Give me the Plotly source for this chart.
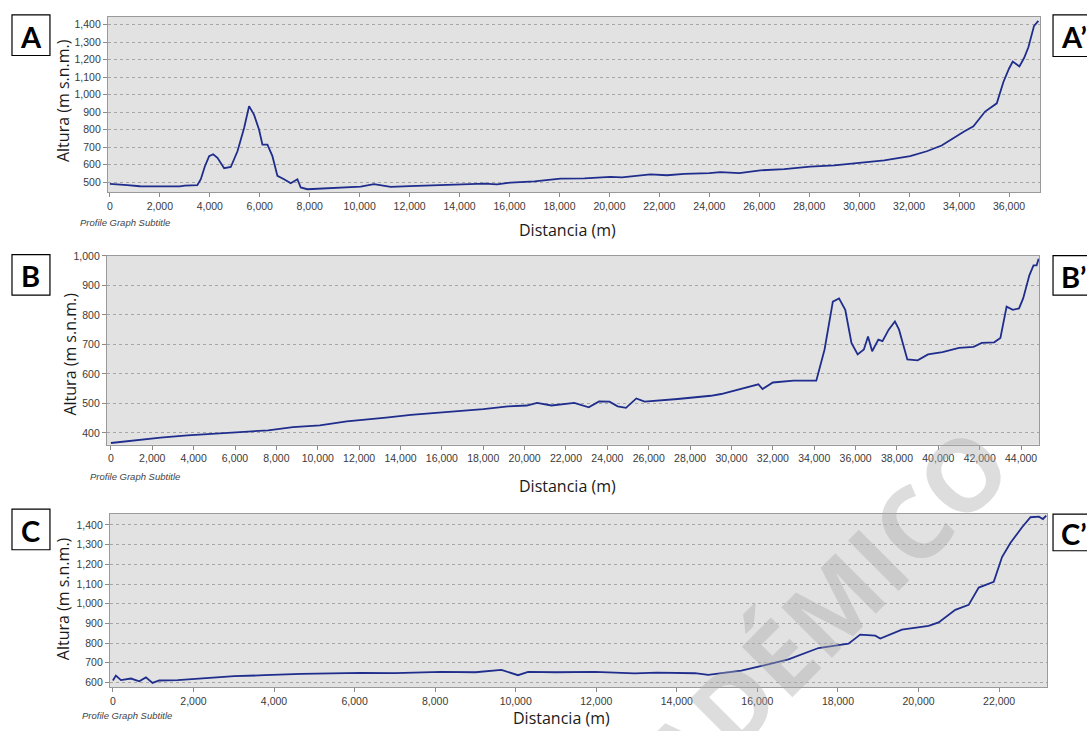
import plotly.graph_objects as go

# Perfil A - A'
dist_a = [0, 300, 700, 1200, 2000, 2800, 3000, 3500, 3640, 3800, 3973, 4133, 4307, 4573, 4840,
          5107, 5373, 5573, 5773, 5973, 6107, 6307, 6507, 6707, 6973, 7240, 7507, 7640, 7907,
          8707, 9500, 10040, 10573, 11000, 11240, 12000, 13000, 14040, 15000, 15500, 16040,
          17000, 18040, 19000, 20040, 20500, 21000, 21640, 22307, 23000, 24000, 24440, 25200,
          26040, 27000, 28040, 29000, 30040, 31000, 32040, 32707, 33300, 33773, 34200, 34573,
          34800, 35040, 35507, 35773, 36000, 36147, 36413, 36600, 36773, 37000, 37173]
alt_a = [490, 488, 483, 477, 475, 476, 480, 483, 517, 590, 649, 660, 640, 580, 587,
         677, 810, 935, 885, 800, 715, 715, 649, 536, 517, 494, 517, 470, 460,
         465, 468, 475, 489, 478, 473, 478, 482, 489, 492, 488, 498,
         505, 521, 522, 530, 528, 535, 545, 540, 548, 552, 558, 552,
         568, 575, 589, 596, 611, 625, 649, 677, 710, 753, 790, 819,
         860, 904, 951, 1073, 1150, 1190, 1162, 1210, 1271, 1394, 1422]

# Perfil B - B'
dist_b = [0, 1100, 2400, 3700, 5000, 6300, 7600, 8800, 10100, 11400, 12100, 13300, 14500, 16100,
          18000, 19200, 20100, 20600, 21300, 22400, 23100, 23600, 24100, 24500, 24900, 25400,
          25800, 27400, 29000, 29500, 30500, 31300, 31500, 32000, 33000, 34100, 34500, 34900,
          35200, 35500, 35800, 36100, 36400, 36600, 36800, 37100, 37300, 37600, 37900, 38100,
          38500, 39000, 39500, 40200, 41000, 41700, 42100, 42700, 43000, 43300, 43600, 43900,
          44100, 44400, 44600, 44750, 44850]
alt_b = [366, 375, 384, 392, 398, 403, 409, 420, 426, 439, 443, 452, 461, 470,
         481, 490, 493, 502, 493, 502, 487, 507, 506, 490, 485, 517,
         506, 515, 526, 532, 549, 565, 549, 571, 577, 577, 683, 845,
         856, 817, 705, 666, 683, 727, 677, 716, 711, 750, 778, 750,
         649, 646, 666, 674, 688, 692, 705, 707, 722, 828, 817, 822,
         856, 934, 968, 968, 990]

# Perfil C - C'
dist_c = [0, 75, 200, 450, 655, 820, 985, 1150, 1608, 2187, 3016, 3762, 4673, 6165, 7000, 8153,
          9000, 9645, 10058, 10307, 11000, 11964, 12958, 13500, 14450, 14780, 15113, 15600,
          16107, 16770, 17516, 18000, 18262, 18552, 18925, 19050, 19587, 20250, 20499, 20913,
          21245, 21494, 21867, 22073, 22280, 22570, 22780, 22988, 23088, 23170]
alt_c = [610, 635, 612, 620, 606, 626, 598, 610, 612, 619, 632, 637, 644, 649, 648, 654,
         652, 664, 637, 654, 652, 654, 646, 650, 647, 639, 647, 660,
         684, 717, 775, 790, 797, 843, 838, 823, 868, 888, 905, 969,
         994, 1082, 1111, 1237, 1308, 1388, 1439, 1442, 1430, 1447]

W, H = 1087, 731
LINE = "#1f2d8c"
PLOT_BG = "#e2e2e2"


def px(x):
    return x / W


def py(y):
    return 1 - y / H


panels = [
    # (x, y, x domain px, y domain px, x range, y range, y ticks)
    (dist_a, alt_a, (107, 1040), (11, 188), (-80, 37240), (443, 1445), list(range(500, 1401, 100))),
    (dist_b, alt_b, (106, 1039), (252, 443), (-193, 44868), (360, 1001), list(range(400, 1001, 100))),
    (dist_c, alt_c, (109, 1047), (513, 688), (-74, 23190), (575, 1455), list(range(600, 1401, 100))),
]

fig = go.Figure()
layout = dict(
    width=W, height=H, autosize=False,
    margin=dict(l=0, r=0, t=0, b=0),
    paper_bgcolor="white", plot_bgcolor=PLOT_BG,
    showlegend=False,
    font=dict(family="Liberation Sans, Arial, sans-serif", size=10.5, color="#3a3a3a"),
)

for i, (xs, ys, xd, yd, xr, yr, yt) in enumerate(panels, start=1):
    sfx = "" if i == 1 else str(i)
    fig.add_trace(go.Scatter(
        x=xs, y=ys, mode="lines", line=dict(color=LINE, width=1.8),
        xaxis="x" + sfx, yaxis="y" + sfx, hoverinfo="skip",
    ))
    layout["xaxis" + sfx] = dict(
        domain=[px(xd[0]), px(xd[1])], range=list(xr), anchor="y" + sfx,
        tickmode="linear", tick0=0, dtick=2000, tickformat=",d",
        showgrid=False, zeroline=False,
        showline=True, mirror=True, linecolor="#9a9a9a", linewidth=1,
        ticks="outside", ticklen=4, tickcolor="#8a8a8a",
        tickfont=dict(size=10.5, color="#3a3a3a"),
    )
    layout["yaxis" + sfx] = dict(
        domain=[py(yd[1]), py(yd[0])], range=list(yr), anchor="x" + sfx,
        tickmode="array", tickvals=yt, tickformat=",d",
        showgrid=True, gridcolor="#a6a6a6", griddash="dot", gridwidth=1,
        zeroline=False,
        showline=True, mirror=True, linecolor="#9a9a9a", linewidth=1,
        ticks="outside", ticklen=4, tickcolor="#8a8a8a",
        tickfont=dict(size=10.5, color="#3a3a3a"),
    )

fig.update_layout(**layout)

ann = []
shapes = []

TITLE_FONT = dict(family="Open Sans, Noto Sans, sans-serif", size=16, color="#1a1a1a")
SUB_FONT = dict(family="Liberation Sans, Arial, sans-serif", size=9.5, color="#444444")

# axis titles and subtitles
for (ytx, yty), (dx, dy), (sx, sy) in [
    ((62, 95), (567, 226), (77, 219)),
    ((69, 351), (567, 485), (87, 475)),
    ((62, 598), (561, 719), (79, 716)),
]:
    ann.append(dict(text="Altura (m s.n.m.)", x=px(ytx), y=py(yty), xref="paper", yref="paper",
                    textangle=-90, showarrow=False, font=TITLE_FONT,
                    xanchor="center", yanchor="middle"))
    ann.append(dict(text="Distancia (m)", x=px(dx), y=py(dy), xref="paper", yref="paper",
                    showarrow=False, font=TITLE_FONT, xanchor="center", yanchor="middle"))
    ann.append(dict(text="<i>Profile Graph Subtitle</i>", x=px(sx), y=py(sy), xref="paper",
                    yref="paper", showarrow=False, font=SUB_FONT,
                    xanchor="left", yanchor="middle"))

# section labels in boxes
LABEL_FONT = dict(family="Lato, Open Sans, sans-serif", size=29, color="black")
for text, (x0, y0, x1, y1) in [
    ("A", (11, 9, 49, 50)), ("A\u2019", (1053, 9, 1092, 51)),
    ("B", (11, 251, 49, 292)), ("B\u2019", (1053, 252, 1092, 292)),
    ("C", (11, 508, 49, 549)), ("C\u2019", (1053, 513, 1092, 550)),
]:
    shapes.append(dict(type="rect", xref="paper", yref="paper",
                       x0=px(x0), x1=px(x1), y0=py(y1), y1=py(y0),
                       line=dict(color="black", width=1.2), fillcolor="white", layer="above"))
    cx = (x0 + x1) / 2 if x1 < W else x0 + 21
    ann.append(dict(text="<b>%s</b>" % text, x=px(cx), y=py((y0 + y1) / 2 + 1),
                    xref="paper", yref="paper", showarrow=False, font=LABEL_FONT,
                    xanchor="center", yanchor="middle"))

# faint diagonal watermark
ann.append(dict(text="<b>ACADÉMICO</b>", x=px(776), y=py(658), xref="paper", yref="paper",
                showarrow=False, textangle=-45,
                font=dict(family="Open Sans, sans-serif", size=100, color="rgba(170,170,170,0.4)"),
                xanchor="center", yanchor="middle"))

fig.update_layout(annotations=ann, shapes=shapes)

# page without default body margin so the figure sits at the top-left corner
fig.write_html(
    "out.html",
    post_script="document.body.style.margin='0';document.body.style.overflow='hidden';",
)
